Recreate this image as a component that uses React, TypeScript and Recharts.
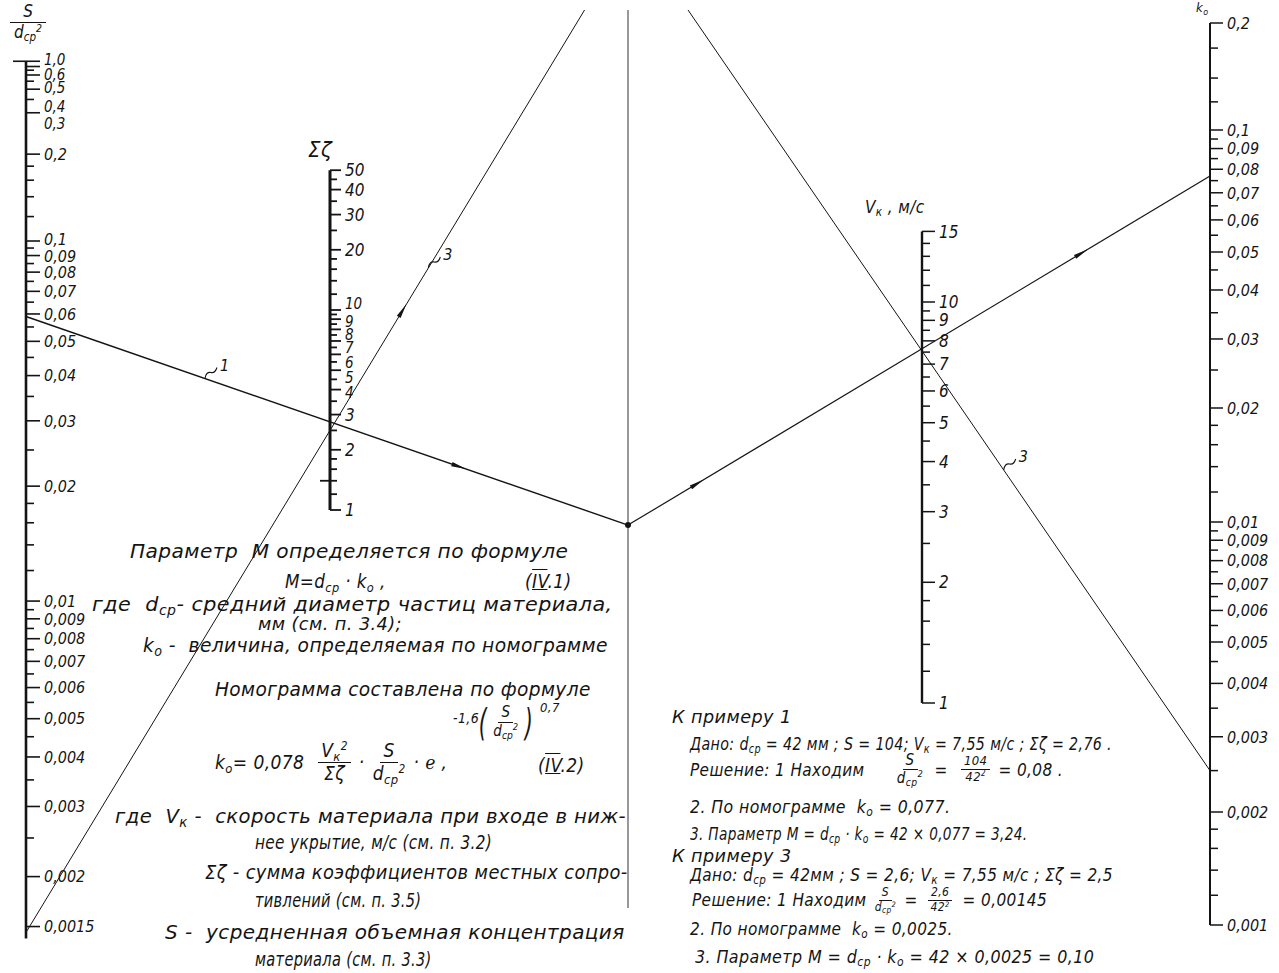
import React from 'react';
import { ComposedChart, Line, Scatter, XAxis, YAxis } from 'recharts';

const W = 1279;
const H = 973;
const INK = '#141414';
const FONT = '"DejaVu Sans Condensed", "DejaVu Sans", sans-serif';

// S / dcp^2 scale
const sLabeled = [1.0, 0.6, 0.5, 0.4, 0.3, 0.2, 0.1, 0.09, 0.08, 0.07, 0.06, 0.05, 0.04, 0.03, 0.02, 0.01, 0.009, 0.008, 0.007, 0.006, 0.005, 0.004, 0.003, 0.002, 0.0015];
const sMinor = [0.55, 0.45, 0.35, 0.18, 0.16, 0.14, 0.12, 0.095, 0.085, 0.075, 0.065, 0.055, 0.045, 0.035, 0.025, 0.018, 0.016, 0.014, 0.012, 0.0095, 0.0085, 0.0075, 0.0065, 0.0055, 0.0045, 0.0035, 0.0025];
// sum of local resistance coefficients
const zLabeled = [50, 40, 30, 20, 10, 9, 8, 7, 6, 5, 4, 3, 2, 1];
const zMinor = [45, 35, 25, 18, 16, 14, 12, 9.5, 8.5, 7.5, 6.5, 5.5, 4.5, 3.5, 2.5, 1.8, 1.6, 1.4, 1.2];
// Vk, m/s
const vLabeled = [15, 10, 9, 8, 7, 6, 5, 4, 3, 2, 1];
const vMinor = [14, 13, 12, 11, 9.5, 8.5, 7.5, 6.5, 5.5, 4.5, 3.5, 2.5, 1.8, 1.6, 1.4, 1.2];
// ko
const kLabeled = [0.2, 0.1, 0.09, 0.08, 0.07, 0.06, 0.05, 0.04, 0.03, 0.02, 0.01, 0.009, 0.008, 0.007, 0.006, 0.005, 0.004, 0.003, 0.002, 0.001];
const kMinor = [0.17, 0.14, 0.12, 0.095, 0.085, 0.075, 0.065, 0.055, 0.045, 0.035, 0.025, 0.018, 0.016, 0.014, 0.012, 0.0095, 0.0085, 0.0075, 0.0065, 0.0055, 0.0045, 0.0035, 0.0025, 0.0018, 0.0016, 0.0014, 0.0012];

// worked examples (S/dcp^2, sum zeta, Vk, ko)
const example1 = { s: 0.059, z: 2.76, v: 7.55, k: 0.077 };
const example3 = { s: 0.00145, z: 2.5, v: 7.55, k: 0.0025 };

// --- nomogram geometry (drawing units) ---
const X = { s: 26, z: 330, pivot: 628, v: 922, k: 1210 };
const fS = (v: number) => Math.log(v) - 1.6 * Math.pow(v, 0.7);
const yS = (v: number) => 241 + 175.9 * (fS(0.1) - fS(v));
const yZ = (v: number) => 510 - 200 * Math.log10(v);
const yV = (v: number) => 703 - 401 * Math.log10(v);
// ko scale calibration (value, position)
const kCal: [number, number][] = [[0.2, 23], [0.1, 130], [0.05, 252], [0.02, 408], [0.01, 522], [0.005, 642], [0.002, 812], [0.001, 925]];
const yK = (v: number) => {
  const u = Math.log10(v);
  for (let i = 0; i < kCal.length - 1; i++) {
    const ua = Math.log10(kCal[i][0]);
    const ub = Math.log10(kCal[i + 1][0]);
    if ((u <= ua && u >= ub) || i === kCal.length - 2) return kCal[i][1] + ((kCal[i + 1][1] - kCal[i][1]) * (u - ua)) / (ub - ua);
  }
  return 0;
};

type P = { x: number; y: number };
const yAtX = (a: P, b: P, x: number) => a.y + ((b.y - a.y) * (x - a.x)) / (b.x - a.x);
const xAtY = (a: P, b: P, y: number) => a.x + ((b.x - a.x) * (y - a.y)) / (b.y - a.y);
const along = (a: P, b: P, t: number) => ({ x: a.x + (b.x - a.x) * t, y: a.y + (b.y - a.y) * t, angle: (Math.atan2(b.y - a.y, b.x - a.x) * 180) / Math.PI });

const fmt = (v: number) => String(v).replace('.', ',');

// crowded labels are shifted off their ticks, as on the drawing
const sNudge: Record<number, number> = { 1: -2, 0.6: 8, 0.5: 13, 0.4: 17, 0.3: 11, 0.1: -2, 0.09: 1 };
const zNudge: Record<number, number> = { 10: -6, 9: 2, 8: 5, 7: 7, 6: 8, 5: 7, 4: 3 };

function ticks(x: number, yf: (v: number) => number, labeled: number[], minor: number[], o: any) {
  const out: any[] = [];
  labeled.forEach((v) =>
    out.push({
      x, y: yf(v), len: o.major, back: 0, w: o.w,
      label: o.fmt ? o.fmt(v) : fmt(v),
      dy: (o.nudge && o.nudge[v]) || 0,
      fs: o.fs - (o.shrink ? o.shrink(v) : 0),
      tx: o.major + 4,
    }),
  );
  minor.forEach((v) => out.push({ x, y: yf(v), len: o.minor, back: 0, w: o.w }));
  return out;
}

const sTicks = ticks(X.s, yS, sLabeled, sMinor, { major: 14, minor: 8, w: 1.6, fs: 16, nudge: sNudge, shrink: (v: number) => (v >= 0.3 ? 1 : 0), fmt: (v: number) => (v === 1 ? '1,0' : fmt(v)) });
sTicks[0].back = 13;
const zTicks = ticks(X.z, yZ, zLabeled, zMinor, { major: 11, minor: 7, w: 1.8, fs: 17, nudge: zNudge, shrink: (v: number) => (v >= 4 && v <= 10 ? 2 : 0) });
zTicks.forEach((t) => { if (Math.abs(t.y - yZ(1.4)) < 0.01) t.back = 10; });
const vTicks = ticks(X.v, yV, vLabeled, vMinor, { major: 13, minor: 8, w: 1.5, fs: 17 });
const kTicks = ticks(X.k, yK, kLabeled, kMinor, { major: 13, minor: 8, w: 1.5, fs: 16 });

const axisS = [{ x: X.s, y: yS(1) }, { x: X.s, y: yS(0.0014) }];
const axisZ = [{ x: X.z, y: yZ(50) }, { x: X.z, y: yZ(1) }];
const axisV = [{ x: X.v, y: yV(15) }, { x: X.v, y: yV(1) }];
const axisK = [{ x: X.k, y: yK(0.2) }, { x: X.k, y: yK(0.001) }];
const pivotAxis = [{ x: X.pivot, y: 10 }, { x: X.pivot, y: 908 }];

// example 1
const e1s = { x: X.s, y: yS(example1.s) };
const e1z = { x: X.z, y: yZ(example1.z) };
const pivot1 = { x: X.pivot, y: yAtX(e1s, e1z, X.pivot) };
const e1k = { x: X.k, y: yK(example1.k) };
const line1a = [e1s, pivot1];
const line1b = [pivot1, e1k];
// example 3
const e3s = { x: X.s, y: yS(example3.s) };
const e3z = { x: X.z, y: yZ(example3.z) };
const e3v = { x: X.v, y: yV(example3.v) };
const e3k = { x: X.k, y: yK(example3.k) };
const line3a = [e3s, { x: X.pivot, y: yAtX(e3s, e3z, X.pivot) }];
const line3b = [e3k, { x: X.pivot, y: yAtX(e3k, e3v, X.pivot) }];

const arrows = [along(e1s, pivot1, 0.72), along(pivot1, e1k, 0.12), along(pivot1, e1k, 0.78), along(e3s, line3a[1], 0.626)];
const notes = [
  { x: 205, y: yAtX(e1s, pivot1, 205), text: '1' },
  { x: xAtY(e3s, e3z, 268), y: 268, text: '3' },
  { x: xAtY(e3k, e3v, 470), y: 470, text: '3' },
];
const pivotDot = [pivot1];

const TickMark = (p: any) => {
  const { cx, cy, payload: d } = p;
  if (cx == null || cy == null) return null;
  return (
    <g>
      <line x1={cx - d.back} y1={cy} x2={cx + d.len} y2={cy} stroke={INK} strokeWidth={d.w} />
      {d.label ? (
        <text x={cx + d.tx} y={cy + d.dy} dy="0.36em" fontSize={d.fs} fontFamily={FONT} fontStyle="italic" fill={INK}>
          {d.label}
        </text>
      ) : null}
    </g>
  );
};

const ArrowHead = (p: any) => {
  const { cx, cy, payload } = p;
  if (cx == null) return null;
  return <polygon points="-8,-2.2 7,0 -8,2.2" transform={`translate(${cx},${cy}) rotate(${payload.angle})`} fill={INK} />;
};

const Note = (p: any) => {
  const { cx, cy, payload } = p;
  if (cx == null) return null;
  return (
    <g>
      <path d={`M${cx},${cy} q1,-7 6,-6 q4,1 6,-5`} fill="none" stroke={INK} strokeWidth={1.1} />
      <text x={cx + 15} y={cy - 8} fontSize={16} fontFamily={FONT} fontStyle="italic" fill={INK}>
        {payload.text}
      </text>
    </g>
  );
};

const Dot = (p: any) => (p.cx == null ? null : <circle cx={p.cx} cy={p.cy} r={3} fill={INK} />);

const Sub = ({ children }: any) => <sub style={{ fontSize: '0.68em', verticalAlign: '-0.3em', lineHeight: 0 }}>{children}</sub>;
const Sup = ({ children }: any) => <sup style={{ fontSize: '0.62em', verticalAlign: '0.6em', lineHeight: 0 }}>{children}</sup>;
const Dcp = () => (<>d<Sub>ср</Sub></>);
const Ko = () => (<>k<Sub>о</Sub></>);
const Vk = () => (<>V<Sub>к</Sub></>);
const Frac = ({ n, d, size, m = 4 }: any) => (
  <span style={{ display: 'inline-flex', flexDirection: 'column', alignItems: 'center', verticalAlign: 'middle', fontSize: size, lineHeight: 1.15, margin: `0 ${m}px` }}>
    <span style={{ borderBottom: `1.3px solid ${INK}`, padding: '0 3px' }}>{n}</span>
    <span>{d}</span>
  </span>
);

const T = ({ x, y, size = 19, children, ls = 0.4, sx = 1 }: any) => (
  <div style={{ position: 'absolute', left: x, top: y - size * 0.55, fontSize: size, lineHeight: 1.05, fontFamily: FONT, fontStyle: 'italic', color: INK, whiteSpace: 'pre', letterSpacing: ls, transform: `scaleX(${sx})`, transformOrigin: 'left center' }}>
    {children}
  </div>
);
const Roman = ({ n }: any) => (
  <>(<span style={{ textDecoration: 'underline overline' }}>IV</span>.{n})</>
);
const Row = ({ x, top, size, children }: any) => (
  <div style={{ position: 'absolute', left: x, top, fontFamily: FONT, fontStyle: 'italic', color: INK, fontSize: size, display: 'flex', alignItems: 'center', whiteSpace: 'pre', letterSpacing: 0.4 }}>
    {children}
  </div>
);

export default function App() {
  return (
    <div style={{ position: 'absolute', left: 0, top: 0, width: W, height: H, background: '#fff', overflow: 'hidden' }}>
      <ComposedChart width={W} height={H} margin={{ top: 10, right: 0, bottom: 0, left: 0 }}>
        <XAxis type="number" dataKey="x" domain={[0, W]} hide allowDataOverflow />
        <YAxis type="number" dataKey="y" domain={[10, H]} reversed hide allowDataOverflow />
        <Line data={pivotAxis} dataKey="y" stroke="#333" strokeWidth={1} dot={false} isAnimationActive={false} />
        <Line data={axisS} dataKey="y" stroke={INK} strokeWidth={2.6} dot={false} isAnimationActive={false} />
        <Line data={axisZ} dataKey="y" stroke={INK} strokeWidth={3} dot={false} isAnimationActive={false} />
        <Line data={axisV} dataKey="y" stroke={INK} strokeWidth={2.4} dot={false} isAnimationActive={false} />
        <Line data={axisK} dataKey="y" stroke={INK} strokeWidth={2} dot={false} isAnimationActive={false} />
        <Line data={line1a} dataKey="y" stroke={INK} strokeWidth={1.4} dot={false} isAnimationActive={false} />
        <Line data={line1b} dataKey="y" stroke={INK} strokeWidth={1.2} dot={false} isAnimationActive={false} />
        <Line data={line3a} dataKey="y" stroke={INK} strokeWidth={1} dot={false} isAnimationActive={false} />
        <Line data={line3b} dataKey="y" stroke={INK} strokeWidth={1} dot={false} isAnimationActive={false} />
        <Scatter data={sTicks} shape={TickMark} isAnimationActive={false} />
        <Scatter data={zTicks} shape={TickMark} isAnimationActive={false} />
        <Scatter data={vTicks} shape={TickMark} isAnimationActive={false} />
        <Scatter data={kTicks} shape={TickMark} isAnimationActive={false} />
        <Scatter data={arrows} shape={ArrowHead} isAnimationActive={false} />
        <Scatter data={notes} shape={Note} isAnimationActive={false} />
        <Scatter data={pivotDot} shape={Dot} isAnimationActive={false} />
      </ComposedChart>

      {/* axis titles */}
      <div style={{ position: 'absolute', left: 10, top: 2, width: 36, fontFamily: FONT, fontStyle: 'italic', color: INK, textAlign: 'center', fontSize: 17, lineHeight: 1.1 }}>
        <div style={{ borderBottom: `1.5px solid ${INK}`, paddingBottom: 1 }}>S</div>
        <div><Dcp /><Sup>2</Sup></div>
      </div>
      <T x={308} y={150} size={22}>Σζ</T>
      <T x={865} y={208} size={17}><Vk /> , м/с</T>
      <T x={1196} y={8} size={13}><Ko /></T>

      {/* description */}
      <T x={130} y={552} size={20} sx={1.117}>Параметр  М определяется по формуле</T>
      <T x={285} y={582} size={19} sx={0.98}>M=<Dcp /> · <Ko /> ,</T>
      <T x={525} y={582} size={19}><Roman n={1} /></T>
      <T x={92} y={605} size={20} sx={1.149}>где  <Dcp />- средний диаметр частиц материала,</T>
      <T x={258} y={625} size={18} sx={1.09}>мм (см. п. 3.4);</T>
      <T x={143} y={646} size={20} sx={1.035}><Ko /> -  величина, определяемая по номограмме</T>
      <T x={215} y={690} size={20} sx={1.03}>Номограмма составлена по формуле</T>
      <T x={453} y={719} size={14}>-1,6</T>
      <div style={{ position: 'absolute', left: 476, top: 700, fontFamily: FONT, fontStyle: 'italic', color: INK, display: 'flex', alignItems: 'center' }}>
        <span style={{ fontSize: 38, fontWeight: 200, transform: 'scaleX(0.6)' }}>(</span>
        <Frac size={15} n="S" d={<><Dcp /><Sup>2</Sup></>} />
        <span style={{ fontSize: 38, fontWeight: 200, transform: 'scaleX(0.6)' }}>)</span>
      </div>
      <T x={540} y={708} size={13}>0,7</T>
      <Row x={215} top={740} size={19}>
        <span><Ko />= 0,078 </span>
        <Frac size={19} m={8} n={<><Vk /><Sup>2</Sup></>} d="Σζ" />
        <span>·</span>
        <Frac size={19} m={8} n="S" d={<><Dcp /><Sup>2</Sup></>} />
        <span>· ℯ ,</span>
      </Row>
      <T x={538} y={766} size={19}><Roman n={2} /></T>
      <T x={115} y={817} size={20} sx={1.087}>где  <Vk /> -  скорость материала при входе в ниж-</T>
      <T x={255} y={843} size={20} sx={0.85}>нее укрытие, м/с (см. п. 3.2)</T>
      <T x={205} y={873} size={20} sx={0.99}>Σζ - сумма коэффициентов местных сопро-</T>
      <T x={255} y={901} size={20} sx={0.81}>тивлений (см. п. 3.5)</T>
      <T x={165} y={933} size={20} sx={1.108}>S -  усредненная объемная концентрация</T>
      <T x={255} y={960} size={20} sx={0.81}>материала (см. п. 3.3)</T>

      {/* examples */}
      <T x={672} y={718} size={17} sx={1.15}>К примеру 1</T>
      <T x={690} y={745} size={17} sx={0.93}>Дано: <Dcp /> = 42 мм ; S = 104; <Vk /> = 7,55 м/с ; Σζ = 2,76 .</T>
      <Row x={690} top={752} size={17}>
        <span>Решение: 1 Находим     </span>
        <Frac size={15} m={6} n="S" d={<><Dcp /><Sup>2</Sup></>} />
        <span> = </span>
        <Frac size={13} m={8} n="104" d={<>42<Sup>2</Sup></>} />
        <span>= 0,08 .</span>
      </Row>
      <T x={690} y={808} size={17} sx={1.03}>2. По номограмме  <Ko /> = 0,077.</T>
      <T x={690} y={835} size={17} sx={0.89}>3. Параметр M = <Dcp /> · <Ko /> = 42 × 0,077 = 3,24.</T>
      <T x={672} y={857} size={17} sx={1.15}>К примеру 3</T>
      <T x={690} y={876} size={17}>Дано: <Dcp /> = 42мм ; S = 2,6; <Vk /> = 7,55 м/с ; Σζ = 2,5</T>
      <Row x={692} top={886} size={17}>
        <span>Решение: 1 Находим </span>
        <Frac size={12} m={3} n="S" d={<><Dcp /><Sup>2</Sup></>} />
        <span> = </span>
        <Frac size={12} m={5} n="2,6" d={<>42<Sup>2</Sup></>} />
        <span> = 0,00145</span>
      </Row>
      <T x={690} y={930} size={17}>2. По номограмме  <Ko /> = 0,0025.</T>
      <T x={695} y={958} size={17} sx={1.04}>3. Параметр M = <Dcp /> · <Ko /> = 42 × 0,0025 = 0,10</T>
    </div>
  );
}
